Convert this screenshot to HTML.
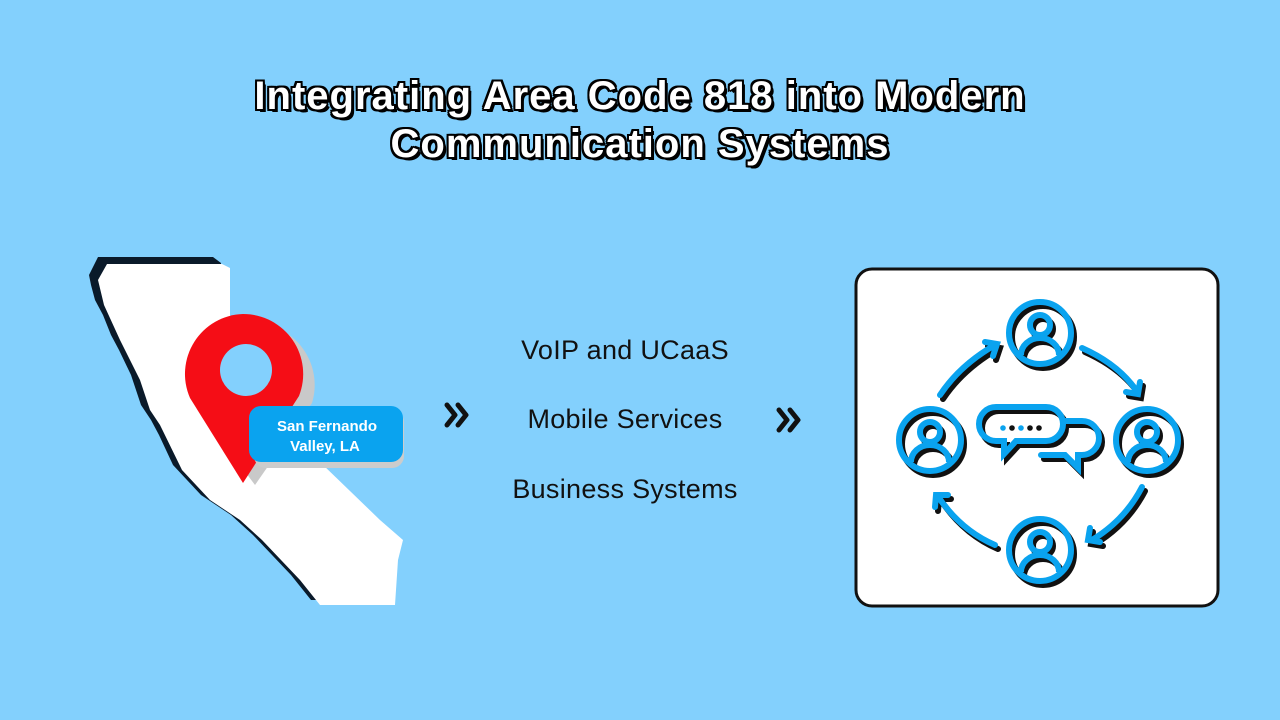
<!DOCTYPE html>
<html><head><style>
body{margin:0;width:1280px;height:720px;background:#83d0fd;position:relative;overflow:hidden;font-family:"Liberation Sans",sans-serif}
.t{position:absolute;left:0;width:1280px;text-align:center;color:#fff;font-weight:bold;font-size:40px;letter-spacing:1px;
text-shadow:-2px 0 #000,2px 0 #000,0 -2px #000,0 2px #000,-2px -2px #000,2px 2px #000,-2px 2px #000,2px -2px #000,3px 3px #000}
.m{position:absolute;left:470px;width:310px;text-align:center;font-size:27px;color:#111;letter-spacing:0.3px}
</style></head><body>
<div class="t" style="top:74px">Integrating Area Code 818 into Modern</div>
<div class="t" style="top:122px">Communication Systems</div>
<svg width="1280" height="720" style="position:absolute;left:0;top:0">
<g transform="translate(-9,-5)"><polygon fill="#0a1a2a" points="107,262 222,262 230,268 230,375 380,520 403,540 398,560 395,605 320,605 300,580 262,540 240,520 210,500 182,470 168,440 160,425 150,410 140,380 128,355 120,340 112,320 104,305 100,290 98,280"/></g>
<polygon fill="#fff" points="107,264 222,264 230,268 230,375 380,520 403,540 398,560 395,605 320,605 300,580 262,540 240,520 210,500 182,470 160,425 150,410 140,380 120,340 104,305 98,280"/>
<path d="M249,318 a62,62 0 0 1 58,80 L250,480 L190,400 A62,62 0 0 1 249,318Z" fill="#c9c9c9" transform="translate(5,5)"/>
<path d="M243,314 a60,60 0 0 1 56,82 L243,483 L190,398 A60,60 0 0 1 243,314Z" fill="#f50d16"/>
<circle cx="246" cy="370" r="26" fill="#83d0fd"/>
<rect x="254" y="410" width="150" height="58" rx="12" fill="#ccc"/>
<rect x="249" y="406" width="154" height="56" rx="12" fill="#0aa3ef"/>
<text x="327" y="431" fill="#fff" font-size="15" font-weight="bold" text-anchor="middle">San Fernando</text>
<text x="325" y="451" fill="#fff" font-size="15" font-weight="bold" text-anchor="middle">Valley, LA</text>
<g fill="none" stroke="#111" stroke-width="5" stroke-linecap="round" stroke-linejoin="round">
<path d="M447,405 l8,10 l-8,10 M458,405 l8,10 l-8,10"/>
<path d="M779,410 l8,10 l-8,10 M790,410 l8,10 l-8,10"/>
</g>
<rect x="856" y="269" width="362" height="337" rx="16" fill="#fff" stroke="#111" stroke-width="3"/>
<defs>
<g id="p"><circle r="31" fill="none" stroke-width="6"/><circle cy="-8" r="10" fill="none" stroke-width="6"/><path d="M-19,22 a19,17 0 0 1 38,0" fill="none" stroke-width="6"/></g>
<g id="arcs" fill="none" stroke-width="6" stroke-linecap="round">
<path d="M940,395 Q960,365 995,345 M985,342 l12,2 l-4,12"/>
<path d="M1082,348 Q1120,365 1138,393 M1126,392 l12,2 l2,-12"/>
<path d="M1142,487 Q1125,520 1092,540 M1090,528 l-2,12 l12,2"/>
<path d="M995,545 Q960,530 937,495 M935,507 l1,-12 l12,0"/>
<path d="M996,407 h50 a17,17 0 0 1 0,34 h-30 l-12,13 l0,-13 h-8 a17,17 0 0 1 0,-34Z"/>
<path d="M1063,421 h19 a17,17 0 0 1 0,34 h-4 l0,13 l-13,-13 h-24"/>
</g>
</defs>
<g stroke="#111" transform="translate(3,4)"><use href="#arcs"/>
<use href="#p" x="1040" y="333"/><use href="#p" x="930" y="440"/><use href="#p" x="1147" y="440"/><use href="#p" x="1040" y="550"/></g>
<g stroke="#0aa3ef"><use href="#arcs"/>
<use href="#p" x="1040" y="333"/><use href="#p" x="930" y="440"/><use href="#p" x="1147" y="440"/><use href="#p" x="1040" y="550"/></g>
<g><circle cx="1003" cy="428" r="2.8" fill="#0aa3ef"/><circle cx="1012" cy="428" r="2.8" fill="#111"/><circle cx="1021" cy="428" r="2.8" fill="#0aa3ef"/><circle cx="1030" cy="428" r="2.8" fill="#111"/><circle cx="1039" cy="428" r="2.8" fill="#111"/></g>
</svg>
<div class="m" style="top:335px">VoIP and UCaaS</div>
<div class="m" style="top:404px">Mobile Services</div>
<div class="m" style="top:474px">Business Systems</div>
</body></html>
